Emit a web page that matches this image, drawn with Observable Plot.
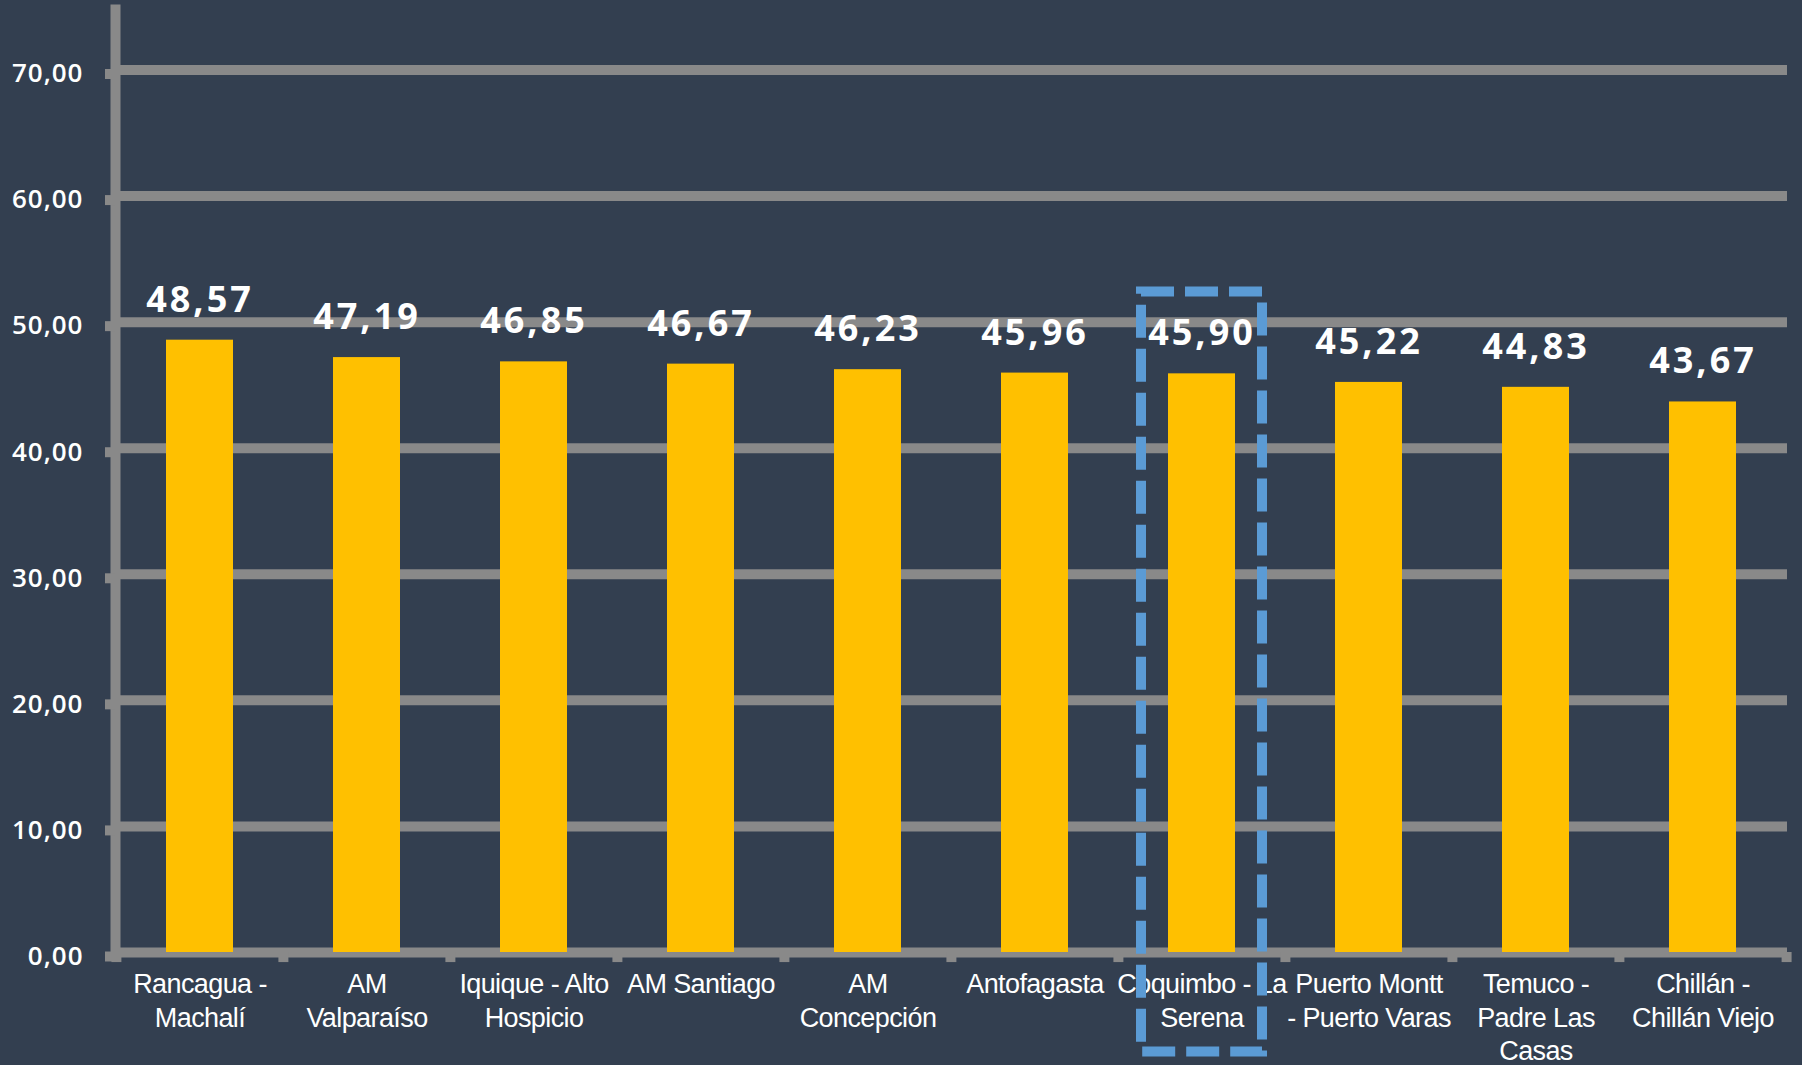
<!DOCTYPE html>
<html>
<head>
<meta charset="utf-8">
<script src="https://cdn.jsdelivr.net/npm/d3@7"></script>
<script src="https://cdn.jsdelivr.net/npm/@observablehq/plot@0.6"></script>
<style>
  html, body { margin: 0; padding: 0; background: #333F50; }
  #chart svg { display: block; }
  #chart g[aria-label="x-axis tick label"] text { letter-spacing: -0.6px; }
  #chart g[aria-label="y-axis tick label"] text { letter-spacing: 1px; }
  #chart g[aria-label="text"] text { letter-spacing: 3px; }
</style>
</head>
<body>
<div id="chart"></div>
<script>
// ---- data ----
const categories = [
  "Rancagua - Machalí",
  "AM Valparaíso",
  "Iquique - Alto Hospicio",
  "AM Santiago",
  "AM Concepción",
  "Antofagasta",
  "Coquimbo - La Serena",
  "Puerto Montt - Puerto Varas",
  "Temuco - Padre Las Casas",
  "Chillán - Chillán Viejo"
];
const categoryLabels = [
  "Rancagua -\nMachalí",
  "AM\nValparaíso",
  "Iquique - Alto\nHospicio",
  "AM Santiago",
  "AM\nConcepción",
  "Antofagasta",
  "Coquimbo - La\nSerena",
  "Puerto Montt\n- Puerto Varas",
  "Temuco -\nPadre Las\nCasas",
  "Chillán -\nChillán Viejo"
];
const values = [48.57, 47.19, 46.85, 46.67, 46.23, 45.96, 45.90, 45.22, 44.83, 43.67];
const yTicks = [0, 10, 20, 30, 40, 50, 60, 70];
const highlighted = ["Coquimbo - La Serena"];

// ---- layout ----
const W = 1802, H = 1065;
const marginLeft = 115, marginRight = 15, marginTop = 9, marginBottom = 113;
const step = (W - marginLeft - marginRight) / categories.length;

const locale = d3.formatLocale({decimal: ",", thousands: ".", grouping: [3], currency: ["", ""]});
const fmt2 = locale.format(".2f");
const labelOf = new Map(categories.map((c, i) => [c, categoryLabels[i]]));
const data = categories.map((c, i) => ({category: c, value: values[i]}));

const gray = "#898989";
const chart = Plot.plot({
  width: W,
  height: H,
  marginLeft, marginRight, marginTop, marginBottom,
  style: {background: "#333F50", color: "white", overflow: "visible"},
  x: {domain: categories, paddingInner: 0.6, paddingOuter: 0.3, axis: null},
  y: {domain: [0, 74.8], axis: null},
  marks: [
    // horizontal gridlines (including the base line)
    Plot.ruleY(yTicks, {y: d => d, stroke: gray, strokeWidth: 10}),
    // small boundary ticks under the x axis
    Plot.ruleX(categories, {x: d => d, y1: 0, y2: -0.8, dx: -step / 2, stroke: gray, strokeWidth: 10}),
    Plot.ruleX([categories[categories.length - 1]], {x: d => d, y1: 0, y2: -0.8, dx: step / 2, stroke: gray, strokeWidth: 10}),
    // vertical y axis line
    Plot.frame({anchor: "left", stroke: gray, strokeWidth: 10}),
    // y axis ticks and labels
    Plot.axisY(yTicks, {
      anchor: "left",
      label: null,
      tickSize: 10,
      tickPadding: 22,
      stroke: gray,
      strokeWidth: 10,
      fill: "white",
      tickFormat: fmt2,
      fontSize: 26,
      fontWeight: 600,
      fontFamily: "'Open Sans', sans-serif",
      dy: 4
    }),
    // x axis category labels
    Plot.axisX({
      anchor: "bottom",
      label: null,
      tickSize: 0,
      tickPadding: 17,
      tickFormat: d => labelOf.get(d),
      fontSize: 27,
      fontFamily: "'Liberation Sans', Arial, sans-serif",
      lineHeight: 1.24,
      fill: "white",
      textOverflow: null
    }),
    // bars
    Plot.barY(data, {x: "category", y: "value", fill: "#FFC000"}),
    // value labels
    Plot.text(data, {
      x: "category",
      y: "value",
      text: d => fmt2(d.value),
      dy: -40,
      fill: "white",
      fontSize: 36,
      fontWeight: "bold",
      fontFamily: "'Open Sans', sans-serif"
    }),
    // dashed highlight box
    Plot.barY(highlighted, {
      x: d => d,
      y1: -7.9,
      y2: 52.4,
      fill: "none",
      stroke: "#5B9BD5",
      strokeWidth: 10,
      strokeDasharray: "33,11",
      insetLeft: -27,
      insetRight: -27
    })
  ]
});
document.getElementById("chart").appendChild(chart);
</script>
</body>
</html>
